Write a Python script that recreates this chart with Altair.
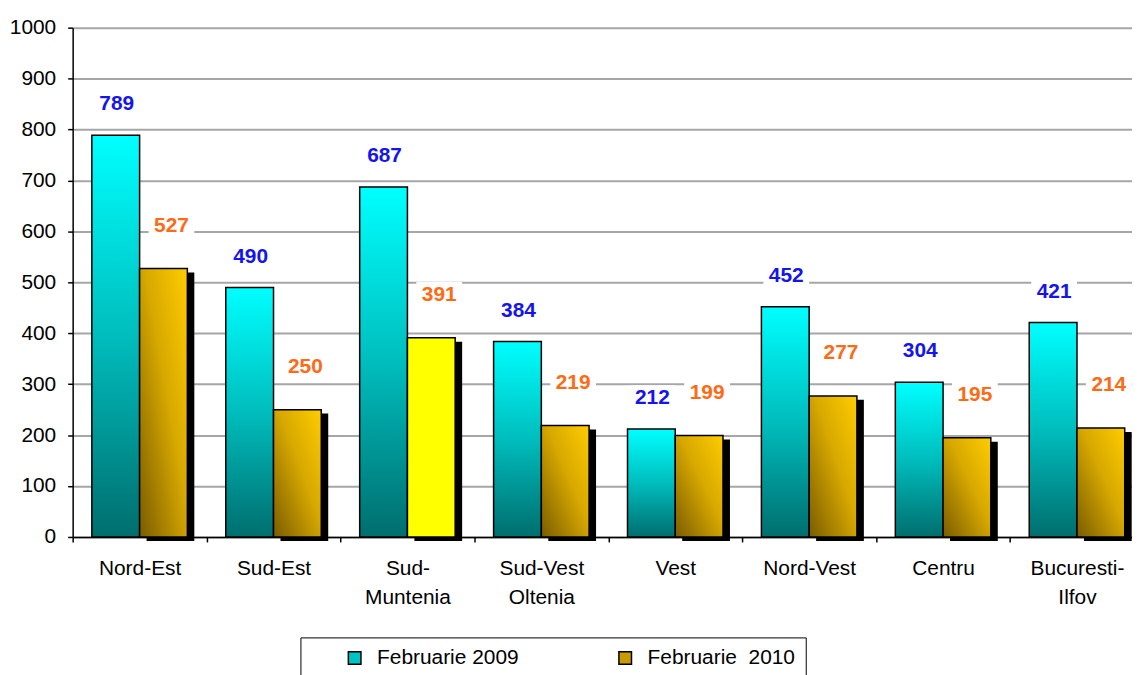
import altair as alt
import pandas as pd

# ---- data ----
regions = ["Nord-Est", "Sud-Est", "Sud-\nMuntenia", "Sud-Vest\nOltenia", "Vest",
           "Nord-Vest", "Centru", "Bucuresti-\nIlfov"]
feb2009 = [789, 490, 687, 384, 212, 452, 304, 421]
feb2010 = [527, 250, 391, 219, 199, 277, 195, 214]
series_names = ["Februarie 2009", "Februarie\u00a0 2010"]
highlight = "Sud-\nMuntenia"
y_ticks = list(range(0, 1001, 100))

rows = []
for r, a, b in zip(regions, feb2009, feb2010):
    rows.append({"region": r, "series": series_names[0], "value": a})
    rows.append({"region": r, "series": series_names[1], "value": b})
df = pd.DataFrame(rows)

FONT = "Liberation Sans"
BAR_W = 48
HALF = 24

grad2009 = {"gradient": "linear", "x1": 0, "y1": 0, "x2": 0, "y2": 1,
            "stops": [{"offset": 0, "color": "#00FFFF"},
                      {"offset": 0.5, "color": "#00BDBD"},
                      {"offset": 1, "color": "#006E6E"}]}
grad2010 = {"gradient": "linear", "x1": 0, "y1": 1, "x2": 1, "y2": 0,
            "stops": [{"offset": 0, "color": "#7A5C00"},
                      {"offset": 0.55, "color": "#D7A800"},
                      {"offset": 1, "color": "#FFCC00"}]}

x_enc = alt.X("region:N", sort=regions, title=None,
              scale=alt.Scale(range=[0, 1077], paddingInner=0, paddingOuter=0),
              axis=alt.Axis(labelExpr="split(datum.label, '\\n')", labelAngle=0,
                            labelFont=FONT, labelFontSize=21, labelColor="black",
                            labelLineHeight=29, labelPadding=16, labelBaseline="top",
                            tickBand="extent", tickSize=5, tickColor="black",
                            tickWidth=1.5, domainColor="black", domainWidth=1.5,
                            grid=False))
y_enc = alt.Y("value:Q", title=None,
              scale=alt.Scale(domain=[0, 1000], nice=False),
              axis=alt.Axis(values=y_ticks, format="d", labelFont=FONT, labelFontSize=21,
                            labelColor="black", labelPadding=12, tickSize=5,
                            tickColor="black", tickWidth=1.5, domainColor="black",
                            domainWidth=1.5, grid=True, gridColor="#A6A6A6",
                            gridWidth=2))

base = alt.Chart(df).encode(x=x_enc, y=y_enc)
s09 = alt.datum.series == series_names[0]
s10 = alt.datum.series == series_names[1]

box09 = base.transform_filter(s09).mark_tick(
    color="white", opacity=1, size=46, thickness=26, xOffset=-HALF + 1, yOffset=-31)
box10 = base.transform_filter(s10).mark_tick(
    color="white", opacity=1, size=46, thickness=26, xOffset=HALF + 8, yOffset=-43)

bars09 = base.transform_filter(s09).mark_bar(
    width=BAR_W, xOffset=-HALF, fill=grad2009, stroke="black", strokeWidth=1.5)
shadow10 = base.transform_filter(s10).mark_bar(
    width=BAR_W, xOffset=HALF + 7, yOffset=4, fill="black", stroke="black", strokeWidth=0)
bars10 = base.transform_filter(s10).transform_filter(
    alt.datum.region != highlight).mark_bar(
    width=BAR_W, xOffset=HALF, fill=grad2010, stroke="black", strokeWidth=1.5)
bar_hl = base.transform_filter(s10).transform_filter(
    alt.datum.region == highlight).mark_bar(
    width=BAR_W, xOffset=HALF, fill="#FFFF00", stroke="black", strokeWidth=1.5)

txt09 = base.transform_filter(s09).mark_text(
    font=FONT, fontSize=21, fontWeight="bold", color="#1414EE",
    baseline="middle", align="center", xOffset=-HALF + 1, yOffset=-31
).encode(text="value:Q")
txt10 = base.transform_filter(s10).mark_text(
    font=FONT, fontSize=21, fontWeight="bold", color="#FF6A14",
    baseline="middle", align="center", xOffset=HALF + 8, yOffset=-43
).encode(text="value:Q")

legend_layer = base.mark_square(opacity=0, size=1).encode(
    color=alt.Color("series:N",
                    scale=alt.Scale(domain=series_names, range=["#00C4C4", "#C89B00"]),
                    legend=alt.Legend(
                        title=None, orient="none", legendX=229, legendY=613,
                        direction="horizontal", symbolType="square", symbolSize=160,
                        symbolOpacity=1, symbolStrokeColor="black",
                        symbolStrokeWidth=1.5, labelFont=FONT, labelFontSize=21,
                        labelColor="black", labelOffset=12, symbolOffset=34,
                        columnPadding=62, padding=10, strokeColor="black",
                        fillColor="white", labelLimit=400)))

chart = alt.layer(box09, box10, bars09, shadow10, bars10, bar_hl, txt09, txt10,
                  legend_layer).properties(
    width=1065, height=512,
    autosize=alt.AutoSizeParams(type="none"),
    padding={"left": 65, "top": 18, "right": 0, "bottom": 137},
    background="white",
).configure_view(stroke=None)

chart.save("out.html", embed_options={"renderer": "svg", "actions": False})
